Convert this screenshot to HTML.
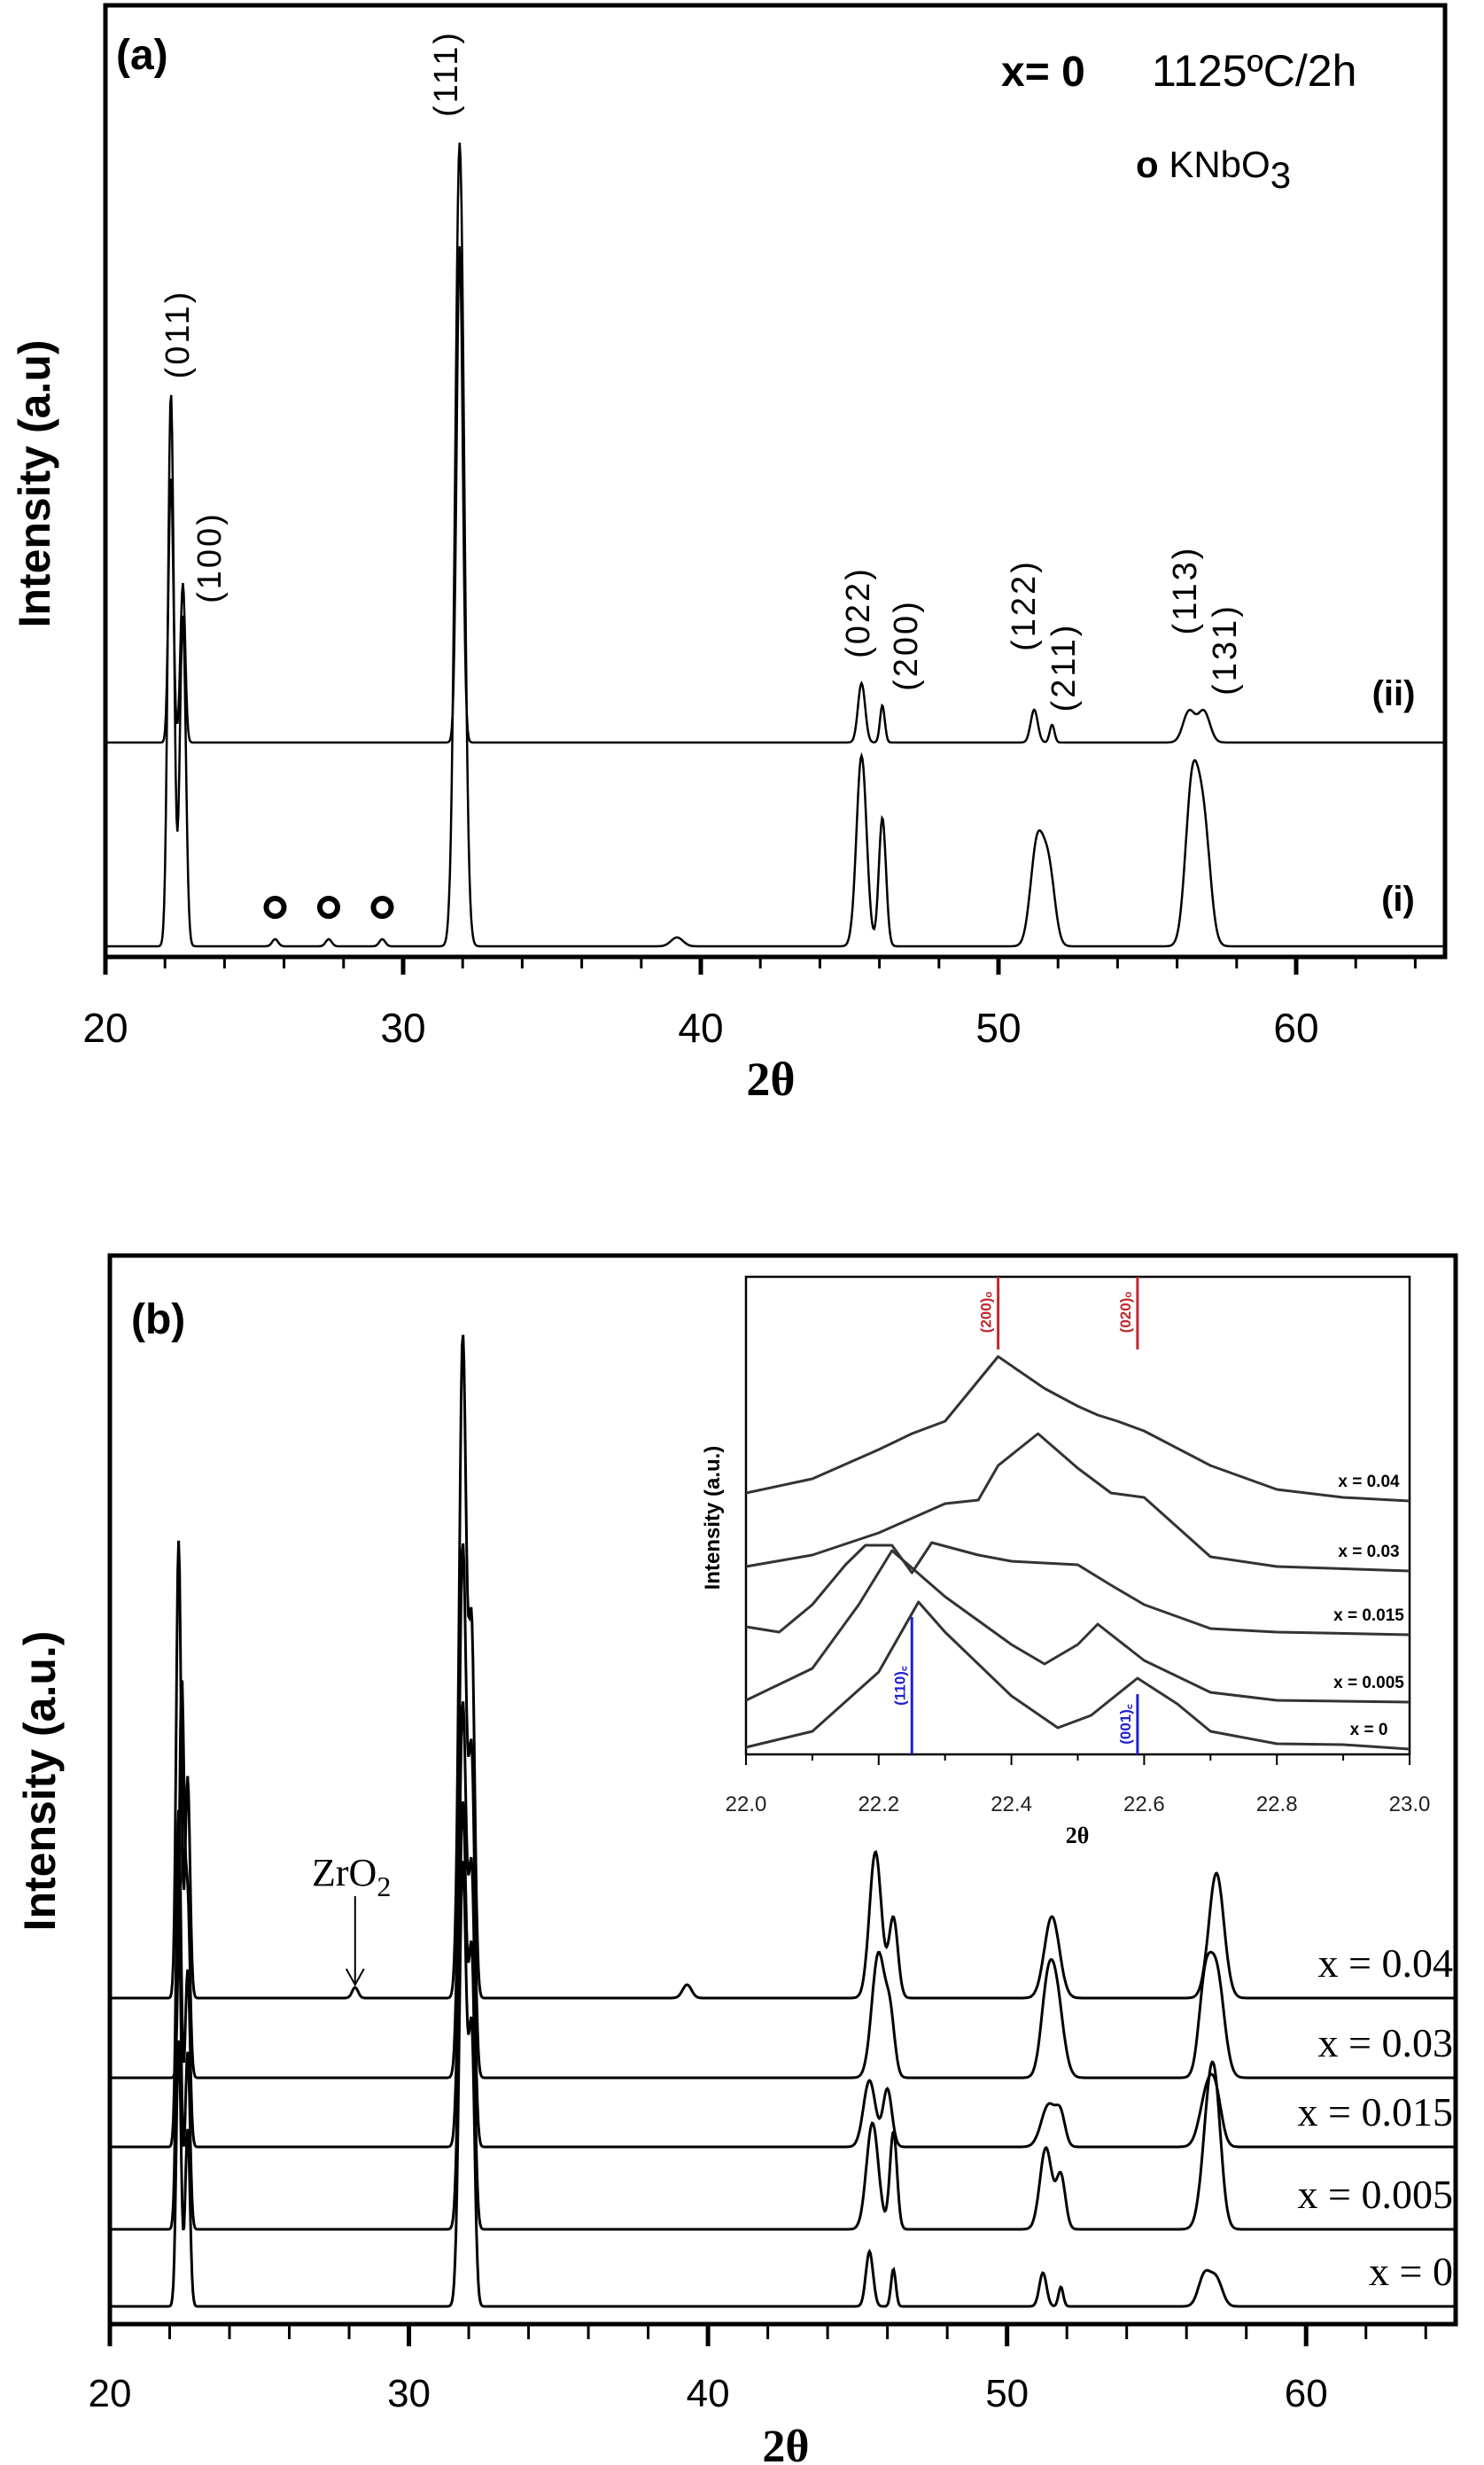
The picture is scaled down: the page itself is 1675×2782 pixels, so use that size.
<!DOCTYPE html>
<html><head><meta charset="utf-8"><style>
html,body{margin:0;padding:0;background:#fff;}
svg{display:block;}
</style></head><body>
<svg id="fig" width="1675" height="2782" viewBox="0 0 1675 2782" xmlns="http://www.w3.org/2000/svg">
<rect width="1675" height="2782" fill="#fff"/>
<g id="pa"></g>
<g id="pb"></g>
<g id="pi"></g>
</svg>
<script>
// ---------- Panel (a) data ----------
const aTicks = [20,30,40,50,60];
const aSeriesNames = ["(i)","(ii)"];
const aOffsets = [0, 230];
const aPos_i = [22.2,22.6,25.7,27.5,29.3,31.9,39.2,45.4,46.1,51.3,51.7,56.5,56.9];
const aHgt_i = [625,373,8,8,8,907,10,215,145,116,80,176,130];
const aWid_i = [0.1,0.1,0.1,0.1,0.1,0.15,0.2,0.17,0.12,0.22,0.2,0.22,0.22];
const aPos_ii = [22.2,22.6,31.9,45.4,46.1,51.2,51.8,56.4,56.9];
const aHgt_ii = [300,180,560,67,42,37,20,35,35];
const aWid_ii = [0.08,0.08,0.1,0.12,0.08,0.12,0.08,0.2,0.2];
const aPeakLabels = ["(011)","(100)","(111)","(022)","(200)","(122)","(211)","(113)","(131)"];
const aPeakLabelX = [200,236,503,968,1022,1155,1200,1337,1382];
const aPeakLabelY = [377,629,83,691,728,683,753,666,733];

// ---------- Panel (b) data ----------
const bTicks = [20,30,40,50,60];
const bNames = ["x = 0","x = 0.005","x = 0.015","x = 0.03","x = 0.04"];
const bOffsets = [0,87,180,258,348];
const bPos = [
 [22.3,22.6,31.8,32.1,45.4,46.2,51.2,51.8,56.6,57.0],
 [22.3,22.6,31.8,32.1,45.5,46.2,51.3,51.8,56.8,57.0],
 [22.3,22.6,31.8,32.1,45.4,46.0,51.4,51.8,56.7,57.0],
 [22.4,22.6,31.8,32.1,45.7,46.1,51.6,51.3,57.0,56.6],
 [22.3,22.6,31.8,32.1,45.6,46.2,51.5,28.2,57.0,39.3]
];
const bHgt = [
 [300,200,500,300,62,42,38,22,35,30],
 [360,200,480,300,120,110,92,60,146,60],
 [380,200,500,300,75,65,48,30,62,40],
 [445,200,600,350,140,60,105,60,120,90],
 [516,250,745,400,165,90,92,12,141,15]
];
const bWid = [
 [0.08,0.08,0.12,0.1,0.12,0.08,0.12,0.08,0.2,0.2],
 [0.08,0.08,0.12,0.1,0.2,0.12,0.2,0.15,0.25,0.2],
 [0.08,0.08,0.12,0.1,0.2,0.15,0.25,0.15,0.25,0.2],
 [0.08,0.08,0.12,0.1,0.22,0.15,0.25,0.2,0.25,0.2],
 [0.08,0.08,0.12,0.1,0.2,0.15,0.25,0.1,0.25,0.15]
];

// ---------- Inset data ----------
const iTicks = [22.0,22.2,22.4,22.6,22.8,23.0];
const iNames = ["x = 0.04","x = 0.03","x = 0.015","x = 0.005","x = 0"];
const iX = [
 [22.0,22.1,22.2,22.25,22.3,22.38,22.45,22.5,22.53,22.56,22.6,22.7,22.8,22.9,23.0],
 [22.0,22.1,22.2,22.3,22.35,22.38,22.44,22.5,22.55,22.6,22.7,22.8,23.0],
 [22.0,22.05,22.1,22.15,22.18,22.22,22.25,22.28,22.35,22.4,22.5,22.55,22.6,22.7,22.8,23.0],
 [22.0,22.1,22.17,22.22,22.3,22.4,22.45,22.5,22.53,22.6,22.7,22.8,23.0],
 [22.0,22.1,22.2,22.26,22.3,22.4,22.47,22.52,22.59,22.65,22.7,22.8,22.9,23.0]
];
const iY = [
 [295,311,344,362,376,449,413,393,383,376,365,326,299,290,286],
 [212,225,250,283,287,326,362,323,295,290,223,212,207],
 [144,138,169,214,236,236,205,239,225,218,214,191,169,142,138,135],
 [61,97,169,230,178,124,102,124,147,106,70,61,59],
 [8,26,93,172,138,66,30,44,86,57,26,12,11,6]
];
const iRedPos = [22.38,22.59];
const iRedLabels = ["(200)","(020)"];
const iBluePos = [22.25,22.59];
const iBlueHgt = [155,68];
const iBlueLabels = ["(110)","(001)"];

const NS = "http://www.w3.org/2000/svg";
function mk(parent, tag, attrs, text){
  const e = document.createElementNS(NS, tag);
  for (const k in attrs) e.setAttribute(k, attrs[k]);
  if (text !== undefined) e.textContent = text;
  parent.appendChild(e);
  return e;
}
function profile(x, pos, hgt, wid){
  let v = 0;
  for (let k=0;k<pos.length;k++){ const d=(x-pos[k])/wid[k]; v += hgt[k]*Math.exp(-0.5*d*d); }
  return v;
}

// ===== Panel A =====
const pa = document.getElementById('pa');
const aL=119, aR=1631, aT=6, aB=1080, aBase=1068;
const axA = v => aL + (v-20)*(aR-aL)/45;
const ayA = v => aBase - v;
let e = mk(pa,'rect',{x:aL,y:aT,width:aR-aL,height:aB-aT,fill:'none',stroke:'#000','stroke-width':5});
 
for (let t=20;t<=64;t+=2){
  const maj = aTicks.includes(t);
  e = mk(pa,'line',{x1:axA(t),x2:axA(t),y1:aB,y2:aB+(maj?20:13),stroke:'#000','stroke-width':maj?5:3});
   
}
aTicks.forEach(t=>{
  e = mk(pa,'text',{x:axA(t),y:1176,'font-family':'Liberation Sans, sans-serif','font-size':46,'text-anchor':'middle'},String(t));
   
});
e = mk(pa,'text',{x:870,y:1236,'font-family':'Liberation Serif, serif','font-size':54,'font-weight':'bold','text-anchor':'middle'},'2θ');
 
e = mk(pa,'text',{x:0,y:0,transform:'translate(56,546) rotate(-90)','font-family':'Liberation Sans, sans-serif','font-size':50,'font-weight':'bold','text-anchor':'middle'},'Intensity (a.u)');
 
[[aPos_i,aHgt_i,aWid_i,aOffsets[0],'series-i'],[aPos_ii,aHgt_ii,aWid_ii,aOffsets[1],'series-ii']].forEach(s=>{
  let d='';
  for (let x=20.05;x<=64.95;x+=0.03){ const v=profile(x,s[0],s[1],s[2])+s[3]; d+=(d?'L':'M')+axA(x).toFixed(1)+' '+ayA(v).toFixed(1); }
  const p = mk(pa,'path',{d:d,fill:'none',stroke:'#000','stroke-width':2.5});
   
});
aPeakLabels.forEach((t,k)=>{
  e = mk(pa,'text',{x:0,y:0,transform:`translate(${aPeakLabelX[k]+13},${aPeakLabelY[k]}) rotate(-90)`,'font-family':'Liberation Sans, sans-serif','font-size':38,'letter-spacing':3,'text-anchor':'middle'},t);
   
});
e = mk(pa,'text',{x:1573,y:796,'font-family':'Liberation Sans, sans-serif','font-size':40,'font-weight':'bold','text-anchor':'middle'},aSeriesNames[1]);
 
e = mk(pa,'text',{x:1578,y:1028,'font-family':'Liberation Sans, sans-serif','font-size':40,'font-weight':'bold','text-anchor':'middle'},aSeriesNames[0]);
 
e = mk(pa,'text',{x:131,y:78,'font-family':'Liberation Sans, sans-serif','font-size':48,'font-weight':'bold'},'(a)');
 
e = mk(pa,'text',{x:1130,y:97,'font-family':'Liberation Sans, sans-serif','font-size':48,'font-weight':'bold'},'x= 0');
 
e = mk(pa,'text',{x:1300,y:97,'font-family':'Liberation Sans, sans-serif','font-size':50},'1125ºC/2h');
 
e = mk(pa,'text',{x:1282,y:200,'font-family':'Liberation Sans, sans-serif','font-size':42},'');
 
mk(e,'tspan',{'font-weight':'bold'},'o ');
mk(e,'tspan',{},'KNbO');
mk(e,'tspan',{dy:12,'font-size':42},'3');
[25.7,27.5,29.3].forEach(p=>{
  e = mk(pa,'circle',{cx:axA(p),cy:1024,r:10,fill:'none',stroke:'#000','stroke-width':6});
   
});

// ===== Panel B =====
const pb = document.getElementById('pb');
const bL=124, bR=1643, bT=1417, bB=2623, bBase=2603;
const axB = v => bL + (v-20)*(bR-bL)/45;
const ayB = v => bBase - v;
e = mk(pb,'rect',{x:bL,y:bT,width:bR-bL,height:bB-bT,fill:'none',stroke:'#000','stroke-width':5});
 
for (let t=20;t<=64;t+=2){
  const maj = bTicks.includes(t);
  e = mk(pb,'line',{x1:axB(t),x2:axB(t),y1:bB,y2:bB+(maj?25:17),stroke:'#000','stroke-width':maj?5:3});
   
}
bTicks.forEach(t=>{
  e = mk(pb,'text',{x:axB(t),y:2716,'font-family':'Liberation Sans, sans-serif','font-size':44,'text-anchor':'middle'},String(t));
   
});
e = mk(pb,'text',{x:887,y:2778,'font-family':'Liberation Serif, serif','font-size':52,'font-weight':'bold','text-anchor':'middle'},'2θ');
 
e = mk(pb,'text',{x:0,y:0,transform:'translate(62,2010) rotate(-90)','font-family':'Liberation Sans, sans-serif','font-size':50,'font-weight':'bold','text-anchor':'middle'},'Intensity (a.u.)');
 
e = mk(pb,'text',{x:148,y:1505,'font-family':'Liberation Sans, sans-serif','font-size':48,'font-weight':'bold'},'(b)');
 
bNames.forEach((n,s)=>{
  let d='';
  for (let x=20.05;x<=64.95;x+=0.03){ const v=profile(x,bPos[s],bHgt[s],bWid[s])+bOffsets[s]; d+=(d?'L':'M')+axB(x).toFixed(1)+' '+ayB(v).toFixed(1); }
  const p = mk(pb,'path',{d:d,fill:'none',stroke:'#000','stroke-width':3});
   
  const t = mk(pb,'text',{x:1640,y:ayB(bOffsets[s])-24,'font-family':'Liberation Serif, serif','font-size':46,'text-anchor':'end'},n);
   
});
e = mk(pb,'text',{x:352,y:2128,'font-family':'Liberation Serif, serif','font-size':44},'ZrO');
 
mk(e,'tspan',{dy:12,'font-size':32},'2');
e = mk(pb,'line',{x1:axB(28.2),x2:axB(28.2),y1:2140,y2:2238,stroke:'#000','stroke-width':2});
 
e = mk(pb,'path',{d:`M${axB(28.2)-10} 2222 L${axB(28.2)} 2240 L${axB(28.2)+10} 2222`,fill:'none',stroke:'#000','stroke-width':2});
 

// ===== Inset =====
const pi = document.getElementById('pi');
const iL=842, iR=1591, iT=1441, iB=1980;
const axI = v => iL + (v-22)*(iR-iL);
const ayI = v => iB - v;
e = mk(pi,'rect',{x:iL,y:iT,width:iR-iL,height:iB-iT,fill:'#fff',stroke:'#000','stroke-width':2.5});
 
for (let k=0;k<=10;k++){
  const t=22+k*0.1, maj=k%2===0;
  e = mk(pi,'line',{x1:axI(t),x2:axI(t),y1:iB,y2:iB+(maj?12:7),stroke:'#000','stroke-width':2});
   
}
iTicks.forEach(t=>{
  e = mk(pi,'text',{x:axI(t),y:2044,'font-family':'Liberation Sans, sans-serif','font-size':24,'text-anchor':'middle','fill':'#222'},t.toFixed(1));
   
});
e = mk(pi,'text',{x:1216,y:2080,'font-family':'Liberation Serif, serif','font-size':26,'font-weight':'bold','text-anchor':'middle'},'2θ');
 
e = mk(pi,'text',{x:0,y:0,transform:'translate(812,1713) rotate(-90)','font-family':'Liberation Sans, sans-serif','font-size':24,'font-weight':'bold','text-anchor':'middle'},'Intensity (a.u.)');
 
iNames.forEach((n,s)=>{
  let d='';
  iX[s].forEach((x,k)=>{ d+=(k?'L':'M')+axI(x).toFixed(1)+' '+ayI(iY[s][k]).toFixed(1); });
  const p = mk(pi,'path',{d:d,fill:'none',stroke:'#333','stroke-width':3,'stroke-linejoin':'round'});
   
  const last = iY[s][iY[s].length-1];
  const t = mk(pi,'text',{x:1545,y:ayI(last)-16,'font-family':'Liberation Sans, sans-serif','font-size':19,'font-weight':'bold','text-anchor':'middle'},n);
   
});
iRedPos.forEach((p,k)=>{
  e = mk(pi,'line',{x1:axI(p),x2:axI(p),y1:iT,y2:iT+82,stroke:'#c0282d','stroke-width':3});
   
  e = mk(pi,'text',{x:0,y:0,transform:`translate(${axI(p)-8},${iT+40}) rotate(-90)`,'font-family':'Liberation Sans, sans-serif','font-size':17,'font-weight':'bold','fill':'#c0282d','text-anchor':'middle'},iRedLabels[k]+'ₒ');
   
});
iBluePos.forEach((p,k)=>{
  const y1 = ayI(iBlueHgt[k]);
  e = mk(pi,'line',{x1:axI(p),x2:axI(p),y1:y1,y2:iB,stroke:'#2020d0','stroke-width':3});
   
  e = mk(pi,'text',{x:0,y:0,transform:`translate(${axI(p)-8},${(y1+iB)/2}) rotate(-90)`,'font-family':'Liberation Sans, sans-serif','font-size':17,'font-weight':'bold','fill':'#2020d0','text-anchor':'middle'},iBlueLabels[k]+'꜀');
   
});
</script>
</body></html>
